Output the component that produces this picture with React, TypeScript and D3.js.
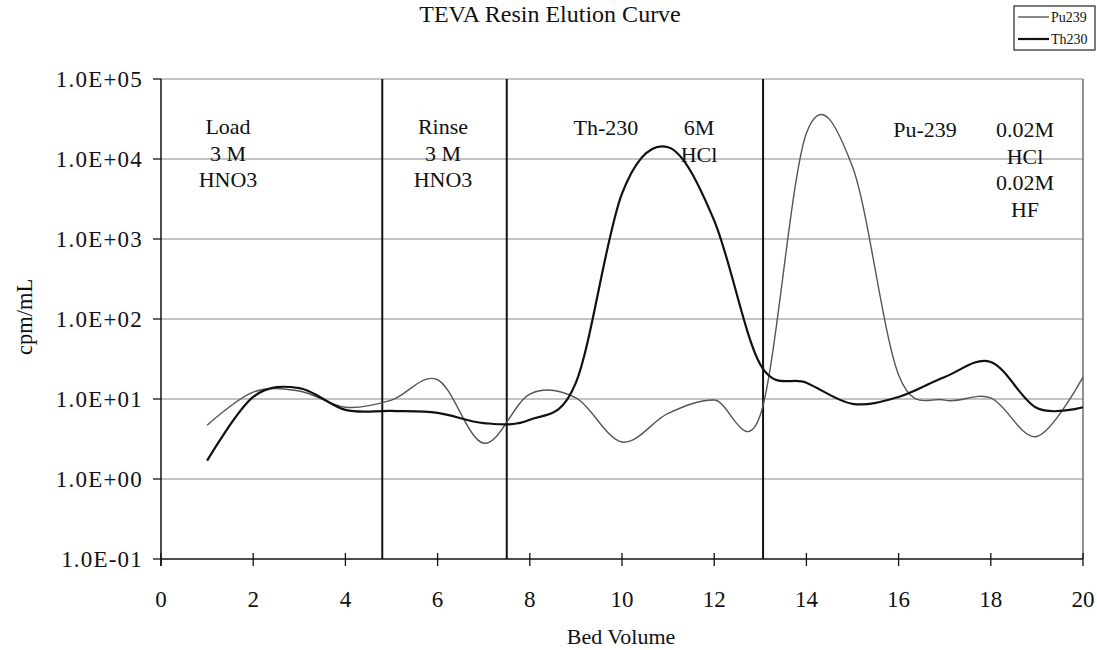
import React from "react";
import * as d3 from "d3";

const bedVolume = [1, 2, 3, 4, 5, 6, 7, 8, 9, 10, 11, 12, 13, 14, 15, 16, 17, 18, 19, 20];
const pu239 = [4.7, 12.2, 12.6, 7.9, 9.7, 17.4, 2.8, 11.5, 10.3, 2.9, 6.6, 9.7, 6.3, 21000, 8000, 20, 9.7, 10.3, 3.4, 18.8];
const th230 = [1.7, 10.6, 13.7, 7.3, 7.1, 6.7, 5.0, 5.5, 16, 3700, 14000, 1700, 27, 16, 8.7, 10.6, 18.8, 29, 7.7, 7.9];

const xTicks = [0, 2, 4, 6, 8, 10, 12, 14, 16, 18, 20];
const yTicks = [0.1, 1, 10, 100, 1000, 10000, 100000];
const yTickLabels = ["1.0E-01", "1.0E+00", "1.0E+01", "1.0E+02", "1.0E+03", "1.0E+04", "1.0E+05"];
const dividers = [4.8, 7.5, 13.06];

const annotations = [
  { x: 228, y: 134, lines: ["Load", "3 M", "HNO3"] },
  { x: 443, y: 134, lines: ["Rinse", "3 M", "HNO3"] },
  { x: 606, y: 135, lines: ["Th-230"] },
  { x: 699, y: 135, lines: ["6M", "HCl"] },
  { x: 925, y: 137, lines: ["Pu-239"] },
  { x: 1025, y: 137, lines: ["0.02M", "HCl", "0.02M", "HF"] },
];

const series = [
  { name: "Pu239", values: pu239, color: "#555", width: 1.4 },
  { name: "Th230", values: th230, color: "#111", width: 2.2 },
];

const FONT = "'Liberation Serif', 'Times New Roman', serif";

export default function App() {
  const x = d3.scaleLinear().domain([0, 20]).range([161, 1083]);
  const y = d3.scaleLog().domain([0.1, 100000]).range([559, 79]);
  const line = d3
    .line<[number, number]>()
    .x((d) => x(d[0]))
    .y((d) => y(d[1]))
    .curve(d3.curveCatmullRom.alpha(0));

  return (
    <svg
      width={1097}
      height={650}
      style={{ position: "absolute", left: 0, top: 0, background: "#fff" }}
      fontFamily={FONT}
    >
      <rect x={0} y={0} width={1097} height={650} fill="#fff" />
      <text x={550} y={22} fontSize={24} textAnchor="middle" fill="#111">
        TEVA Resin Elution Curve
      </text>

      {/* gridlines */}
      {yTicks.slice(1).map((t) => (
        <line key={t} x1={x(0)} x2={x(20)} y1={y(t)} y2={y(t)} stroke="#888" strokeWidth={1.2} />
      ))}
      {/* right frame */}
      <line x1={x(20)} x2={x(20)} y1={y(100000)} y2={y(0.1)} stroke="#555" strokeWidth={1.3} />

      {/* dividers */}
      {dividers.map((d) => (
        <line key={d} x1={x(d)} x2={x(d)} y1={y(100000)} y2={y(0.1)} stroke="#111" strokeWidth={2} />
      ))}

      {/* series */}
      {series.map((s) => (
        <path
          key={s.name}
          d={line(bedVolume.map((b, i) => [b, s.values[i]] as [number, number])) || ""}
          fill="none"
          stroke={s.color}
          strokeWidth={s.width}
        />
      ))}

      {/* axes */}
      <line x1={x(0)} x2={x(0)} y1={y(100000)} y2={y(0.1) + 7} stroke="#111" strokeWidth={1.5} />
      <line x1={x(0)} x2={x(20)} y1={y(0.1)} y2={y(0.1)} stroke="#111" strokeWidth={1.5} />
      {xTicks.map((t) => (
        <g key={t}>
          <line x1={x(t)} x2={x(t)} y1={y(0.1) - 6} y2={y(0.1) + 7} stroke="#111" strokeWidth={1.3} />
          <text x={x(t)} y={607} fontSize={23} textAnchor="middle" fill="#111">
            {t}
          </text>
        </g>
      ))}
      {yTicks.map((t, i) => (
        <g key={t}>
          <line x1={x(0) - 8} x2={x(0)} y1={y(t)} y2={y(t)} stroke="#111" strokeWidth={1.3} />
          <text x={143} y={y(t)} dy="0.36em" fontSize={23} letterSpacing={1.2} textAnchor="end" fill="#111">
            {yTickLabels[i]}
          </text>
        </g>
      ))}

      <text x={621} y={644} fontSize={22} textAnchor="middle" fill="#111">
        Bed Volume
      </text>
      <text
        transform="translate(32,317) rotate(-90)"
        fontSize={22.5}
        textAnchor="middle"
        fill="#111"
      >
        cpm/mL
      </text>

      {/* annotations */}
      {annotations.map((a, i) => (
        <text key={i} x={a.x} y={a.y} fontSize={22} textAnchor="middle" fill="#111">
          {a.lines.map((l, j) => (
            <tspan key={j} x={a.x} y={a.y + j * 26.5}>
              {l}
            </tspan>
          ))}
        </text>
      ))}

      {/* legend */}
      <rect x={1014} y={6} width={81} height={44} fill="#fff" stroke="#222" strokeWidth={1.2} />
      {series.map((s, i) => (
        <g key={s.name}>
          <line x1={1018} x2={1049} y1={17 + i * 22} y2={17 + i * 22} stroke={s.color} strokeWidth={s.width} />
          <text x={1051} y={17 + i * 22} dy="0.35em" fontSize={14} fill="#111">
            {s.name}
          </text>
        </g>
      ))}
    </svg>
  );
}
